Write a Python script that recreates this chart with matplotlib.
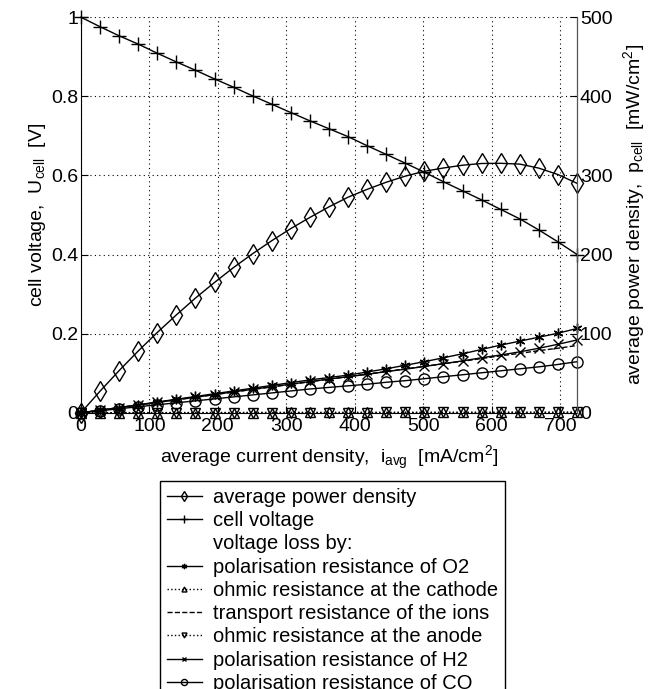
import matplotlib
matplotlib.use("Agg")
import matplotlib.pyplot as plt
from matplotlib.lines import Line2D

plt.rcParams['font.family'] = ['Liberation Sans', 'DejaVu Sans']
plt.rcParams['font.size'] = 14
plt.rcParams['mathtext.fontset'] = 'custom'
plt.rcParams['mathtext.rm'] = 'Liberation Sans'

# average current density [mA/cm2]
current = [0, 27.9, 55.8, 83.7, 111.5, 139.4, 167.3, 195.2, 223.1, 251.0,
           278.9, 306.7, 334.6, 362.5, 390.4, 418.3, 446.2, 474.0, 501.9,
           529.8, 557.7, 585.6, 613.5, 641.4, 669.2, 697.1, 725.0]

# cell voltage [V]
u_cell = [1.0, 0.976, 0.953, 0.932, 0.909, 0.887, 0.866, 0.844, 0.823, 0.801,
          0.780, 0.759, 0.738, 0.718, 0.698, 0.675, 0.653, 0.631, 0.608,
          0.584, 0.561, 0.538, 0.514, 0.490, 0.462, 0.432, 0.400]

# average power density [mW/cm2]
p_cell = [0, 27.2, 53.2, 78.0, 101.4, 123.6, 144.9, 164.7, 183.6, 201.1,
          217.5, 232.8, 246.9, 260.3, 272.5, 282.4, 291.4, 299.1, 305.2,
          309.4, 312.9, 315.1, 315.3, 314.3, 309.2, 301.1, 290.0]

# voltage losses [V]
loss_o2 = [0, 0.006, 0.013, 0.020, 0.027, 0.034, 0.041, 0.048, 0.055, 0.062,
           0.069, 0.076, 0.083, 0.089, 0.095, 0.103, 0.111, 0.120, 0.129,
           0.139, 0.149, 0.160, 0.171, 0.181, 0.191, 0.201, 0.213]
loss_cathode = [0, 0.0001, 0.0001, 0.0002, 0.0002, 0.0003, 0.0003, 0.0004, 0.0004, 0.0005,
                0.0005, 0.0006, 0.0006, 0.0007, 0.0007, 0.0008, 0.0008, 0.0009, 0.0009,
                0.0010, 0.0010, 0.0011, 0.0011, 0.0012, 0.0012, 0.0013, 0.0013]
loss_ions = [0, 0.0065, 0.013, 0.0196, 0.026, 0.0326, 0.039, 0.0457, 0.052, 0.059,
             0.065, 0.072, 0.078, 0.085, 0.091, 0.098, 0.104, 0.111, 0.117,
             0.124, 0.130, 0.137, 0.144, 0.150, 0.157, 0.163, 0.170]
loss_anode = [0, 0.0001, 0.0001, 0.0001, 0.0002, 0.0002, 0.0002, 0.0003, 0.0003, 0.0003,
              0.0004, 0.0004, 0.0004, 0.0005, 0.0005, 0.0005, 0.0006, 0.0006, 0.0006,
              0.0007, 0.0007, 0.0007, 0.0008, 0.0008, 0.0008, 0.0009, 0.0009]
loss_h2 = [0, 0.006, 0.013, 0.019, 0.026, 0.033, 0.039, 0.046, 0.053, 0.059,
           0.066, 0.072, 0.079, 0.085, 0.091, 0.097, 0.104, 0.110, 0.117,
           0.124, 0.131, 0.139, 0.146, 0.154, 0.163, 0.173, 0.184]
loss_co = [0, 0.005, 0.010, 0.015, 0.020, 0.025, 0.030, 0.035, 0.040, 0.045,
           0.050, 0.055, 0.060, 0.064, 0.068, 0.072, 0.077, 0.081, 0.086,
           0.091, 0.096, 0.101, 0.106, 0.111, 0.116, 0.122, 0.129]

fig = plt.figure(figsize=(6.58, 6.89), dpi=100)
ax1 = fig.add_axes([0.123, 0.401, 0.754, 0.574])
ax2 = ax1.twinx()

lw = 1.0
asterisk = (6, 2, 0)
h_u, = ax1.plot(current, u_cell, 'k-', marker='+', ms=10, lw=lw, clip_on=False)
h_o2, = ax1.plot(current, loss_o2, 'k-', marker=asterisk, ms=7, lw=lw, clip_on=False)
h_cat, = ax1.plot(current, loss_cathode, 'k:', marker='^', ms=6.5, mfc='none', lw=lw, clip_on=False)
h_ion, = ax1.plot(current, loss_ions, 'k--', lw=lw, clip_on=False)
h_an, = ax1.plot(current, loss_anode, 'k:', marker='v', ms=6.5, mfc='none', lw=lw, clip_on=False)
h_h2, = ax1.plot(current, loss_h2, 'k-', marker='x', ms=6.5, lw=lw, clip_on=False)
h_co, = ax1.plot(current, loss_co, 'k-', marker='o', ms=8, mfc='none', lw=lw, clip_on=False)
h_p, = ax2.plot(current, p_cell, 'k-', marker='d', ms=10, mfc='none', lw=lw, clip_on=False)

ax1.set_xlim(0, 725)
ax1.set_ylim(0, 1)
ax2.set_ylim(0, 500)
ax1.set_xticks([0, 100, 200, 300, 400, 500, 600, 700])
ax1.set_yticks([0, 0.2, 0.4, 0.6, 0.8, 1])
ax1.set_yticklabels(['0', '0.2', '0.4', '0.6', '0.8', '1'])
ax2.set_yticks([0, 100, 200, 300, 400, 500])

ax1.grid(True, color='k', linestyle=(0, (1, 3)), linewidth=0.8)
ax1.tick_params(direction='in', length=5, pad=2, labelsize=14)
ax1.tick_params(axis='x', pad=4)
ax2.tick_params(direction='in', length=5, pad=2, labelsize=14)
for ax in (ax1, ax2):
    ax.spines['top'].set_visible(False)
ax2.spines['left'].set_visible(False)
ax2.spines['bottom'].set_visible(False)
ax2.spines['right'].set_color('#555555')

ax1.set_xlabel(r'average current density,  $\mathregular{i_{avg}}$  [mA/cm$\mathregular{^2}$]', labelpad=6)
ax1.set_ylabel(r'cell voltage,  $\mathregular{U_{cell}}$  [V]', labelpad=2)
ax2.set_ylabel(r'average power density,  $\mathregular{p_{cell}}$  [mW/cm$\mathregular{^2}$]', labelpad=6)

blank = Line2D([], [], linestyle='none', marker='none')
handles = [h_p, h_u, blank, h_o2, h_cat, h_ion, h_an, h_h2, h_co]
labels = ['average power density', 'cell voltage', 'voltage loss by:',
          'polarisation resistance of O2', 'ohmic resistance at the cathode',
          'transport resistance of the ions', 'ohmic resistance at the anode',
          'polarisation resistance of H2', 'polarisation resistance of CO']
leg = fig.legend(handles, labels, loc='upper center', bbox_to_anchor=(0.505, 0.302),
                 fontsize=14.5, labelspacing=0.21, handlelength=1.75, handletextpad=0.55,
                 markerscale=0.55, borderpad=0.35, borderaxespad=0, fancybox=False,
                 framealpha=1, edgecolor='k')
leg.get_frame().set_linewidth(1.0)

plt.savefig('out.png', dpi=100)
